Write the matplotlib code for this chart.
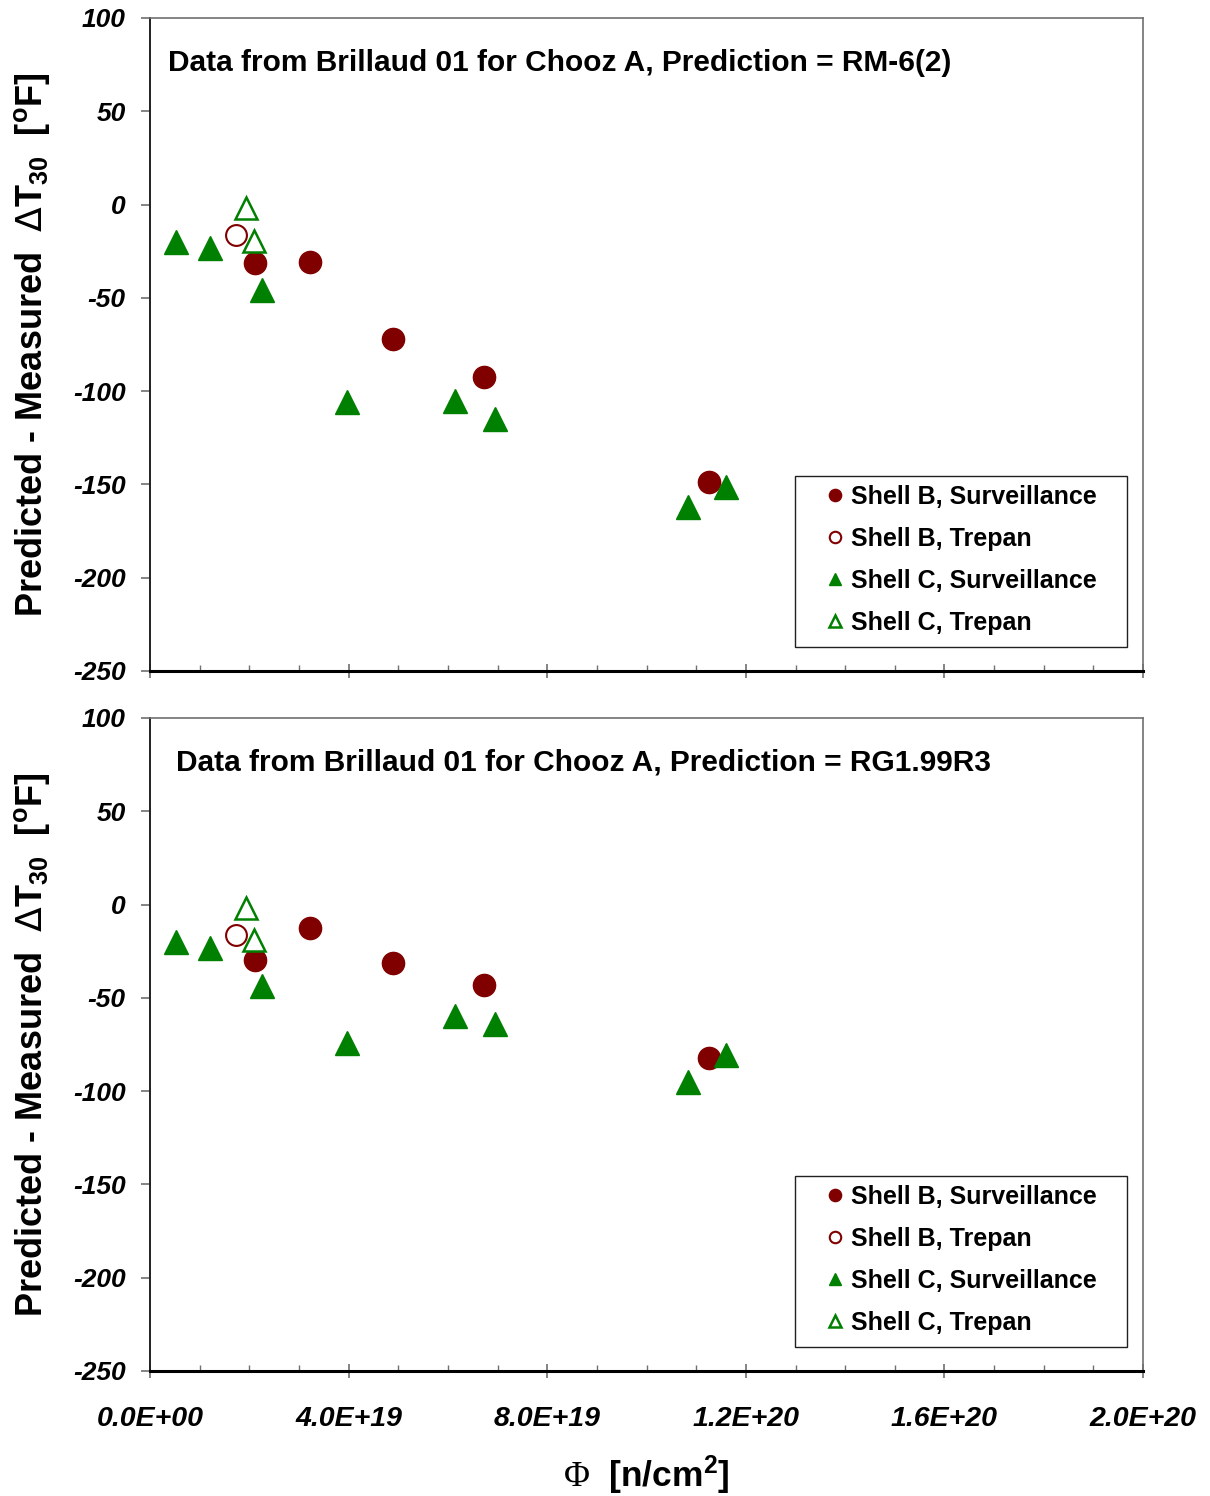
import matplotlib
matplotlib.use("Agg")
import matplotlib.pyplot as plt
from matplotlib.ticker import MultipleLocator, FuncFormatter
from matplotlib.patches import Rectangle

plt.rcParams['font.family'] = ['Liberation Sans', 'DejaVu Sans']
plt.rcParams['axes.unicode_minus'] = False
plt.rcParams['mathtext.fontset'] = 'custom'
plt.rcParams['mathtext.rm'] = 'Liberation Sans:bold'
plt.rcParams['mathtext.it'] = 'Liberation Sans:bold:italic'
plt.rcParams['mathtext.bf'] = 'Liberation Sans:bold'
plt.rcParams['mathtext.sf'] = 'DejaVu Sans'
plt.rcParams['mathtext.tt'] = 'Liberation Serif'

# Fluence [n/cm^2] of each specimen group
phi_b_surv = [2.115e19, 3.22e19, 4.89e19, 6.73e19, 11.26e19]
phi_b_trepan = [1.73e19]
phi_c_surv = [0.52e19, 1.21e19, 2.25e19, 3.97e19, 6.14e19, 6.95e19, 10.84e19, 11.6e19]
phi_c_trepan = [1.93e19, 2.09e19]

# Predicted - measured shift, RM-6(2)
rm6_b_surv = [-31.6, -30.8, -72.3, -92.7, -148.7]
rm6_b_trepan = [-16.5]
rm6_c_surv = [-20.0, -23.3, -45.6, -105.6, -105.4, -114.7, -162.0, -151.3]
rm6_c_trepan = [-1.7, -19.7]

# Predicted - measured shift, RG1.99R3
rg_b_surv = [-29.9, -12.5, -31.6, -42.9, -82.2]
rg_b_trepan = [-16.5]
rg_c_surv = [-20.2, -23.4, -43.8, -74.2, -59.9, -64.1, -95.1, -80.6]
rg_c_trepan = [-1.8, -19.1]

titles = ["Data from Brillaud 01 for Chooz A, Prediction = RM-6(2)",
          "Data from Brillaud 01 for Chooz A, Prediction = RG1.99R3"]
labels = ["Shell B, Surveillance", "Shell B, Trepan",
          "Shell C, Surveillance", "Shell C, Trepan"]

DARKRED = "#800000"
GREEN = "#008000"

fig = plt.figure(figsize=(12.1, 14.96), dpi=100)
ax_top = fig.add_axes([0.124, 0.5515, 0.8207, 0.4365])
ax_bot = fig.add_axes([0.124, 0.0836, 0.8207, 0.4365])

panels = [
    (ax_top, rm6_b_surv, rm6_b_trepan, rm6_c_surv, rm6_c_trepan, titles[0], 0.018),
    (ax_bot, rg_b_surv, rg_b_trepan, rg_c_surv, rg_c_trepan, titles[1], 0.026),
]

ylabel = ("Predicted - Measured  $\\mathsf{\\Delta}$T$_{\\mathregular{30}}$"
          "  [$^{\\mathregular{o}}$F]")

for i, (ax, bs, bt, cs, ct, title, tx) in enumerate(panels):
    h1, = ax.plot(phi_b_surv, bs, 'o', ms=16, color=DARKRED, mec=DARKRED,
                  linestyle='none', label=labels[0])
    h2, = ax.plot(phi_b_trepan, bt, 'o', ms=15, mfc='none', mec=DARKRED,
                  mew=1.5, linestyle='none', label=labels[1])
    h3, = ax.plot(phi_c_surv, cs, '^', ms=17, color=GREEN, mec=GREEN,
                  linestyle='none', label=labels[2])
    h4, = ax.plot(phi_c_trepan, ct, '^', ms=16, mfc='white', mec=GREEN,
                  mew=1.8, linestyle='none', label=labels[3])

    ax.set_xlim(0, 2.0e20)
    ax.set_ylim(-250, 100)
    ax.xaxis.set_major_locator(MultipleLocator(4e19))
    ax.xaxis.set_minor_locator(MultipleLocator(1e19))
    ax.yaxis.set_major_locator(MultipleLocator(50))

    ax.tick_params(axis='y', which='major', direction='out', length=6.5,
                   width=1.2, color='#707070', pad=11, labelsize=19)
    ax.tick_params(axis='x', which='major', direction='inout', length=10,
                   width=1.2, color='#707070', pad=20, labelsize=20.5)
    ax.tick_params(axis='x', which='minor', direction='in', length=4,
                   width=1.0, color='#707070')
    for lab in ax.get_yticklabels() + ax.get_xticklabels():
        lab.set_fontweight('bold')
        lab.set_fontstyle('italic')

    ax.xaxis.set_major_formatter(FuncFormatter(lambda v, p: f"{v:.1E}"))
    if i == 0:
        ax.tick_params(axis='x', labelbottom=False)

    for side in ('top', 'right'):
        ax.spines[side].set_color('#707070')
        ax.spines[side].set_linewidth(1.2)
    ax.spines['left'].set_color('#202020')
    ax.spines['left'].set_linewidth(1.4)
    ax.spines['bottom'].set_color('black')
    ax.spines['bottom'].set_linewidth(2.2)

    ax.text(tx, 0.931, title, transform=ax.transAxes, fontsize=21.5,
            fontweight='bold', va='center', ha='left')

    ax.set_ylabel(ylabel, fontsize=26, fontweight='bold', labelpad=15)

    # legend box
    ax.add_patch(Rectangle((0.6495, 0.0368), 0.3345, 0.2618,
                           transform=ax.transAxes, facecolor='white',
                           edgecolor='#202020', linewidth=1.0, zorder=4))
    leg = ax.legend(handles=[h1, h2, h3, h4], loc='upper left',
                    bbox_to_anchor=(0.680, 0.285), borderaxespad=0,
                    prop={'weight': 'bold', 'size': 18},
                    markerscale=0.55, handlelength=0.8, handletextpad=0.22,
                    labelspacing=0.72, borderpad=0, frameon=False)
    leg.set_zorder(5)

ax_bot.set_xlabel("$\\mathtt{\\Phi}$  [n/cm$^{\\mathregular{2}}$]", fontsize=25.5,
                  fontweight='bold', labelpad=16)

fig.savefig("out.png", dpi=100)
